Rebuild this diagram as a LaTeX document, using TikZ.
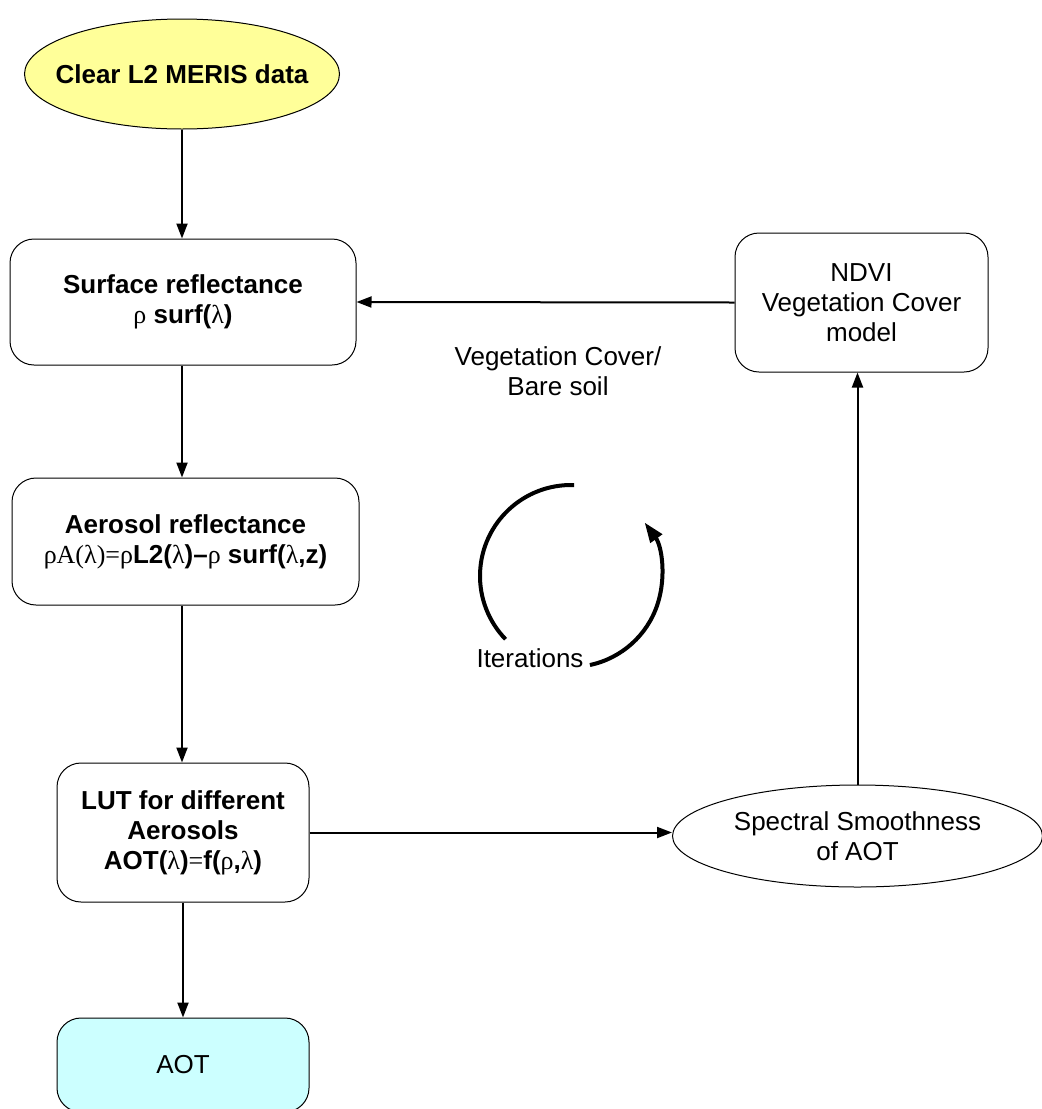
\documentclass[tikz,border=0pt]{standalone}
\usepackage{fontspec}
\setmainfont{Liberation Sans}
\newfontfamily\symbfont{Liberation Serif}
\usetikzlibrary{arrows.meta,shapes.geometric}
\definecolor{merisyellow}{RGB}{255,255,153}
\definecolor{aotcyan}{RGB}{204,255,255}
\newcommand{\gk}[1]{{\symbfont\mdseries #1}}

\begin{document}
\begin{tikzpicture}[x=0.5pt,y=-0.5pt,
	every node/.style={font=\fontsize{13}{15}\selectfont},
	flowbox/.style={draw,line width=0.5pt,rounded corners=12pt,align=center,inner sep=2pt},
	boldbox/.style={flowbox,font=\fontsize{13}{15}\selectfont\bfseries},
	oval/.style={draw,ellipse,line width=0.5pt,align=center,inner sep=0pt},
	flow/.style={line width=1pt,-{Triangle[length=7.5pt,width=5.5pt]}},
	loop/.style={line width=2pt}]
	\useasboundingbox (0,0) rectangle (1042,1109);
	% left column
	\node[oval,fill=merisyellow,inner xsep=-9pt,minimum width=157.5pt,minimum height=55pt,font=\fontsize{13}{15}\selectfont\bfseries] (meris) at (182,74) {Clear L2 MERIS data};
	\node[boldbox,minimum width=173pt,minimum height=63pt] (surf) at (183,302) {Surface reflectance\\\gk{ρ} surf(\gk{λ})};
	\node[boldbox,minimum width=173.5pt,minimum height=63.5pt] (aero) at (185.5,541.5) {Aerosol reflectance\\\gk{ρA(λ)=ρ}L2(\gk{λ})–\gk{ρ} surf(\gk{λ},z)};
	\node[boldbox,minimum width=126pt,minimum height=69.5pt] (lut) at (183,832.5) {LUT for different\\Aerosols\\AOT(\gk{λ})\gk{=}f(\gk{ρ},\gk{λ})};
	\node[flowbox,fill=aotcyan,minimum width=126pt,minimum height=47pt] (aot) at (183,1065) {AOT};
	% right column
	\node[oval,minimum width=185pt,minimum height=51pt] (smooth) at (857.5,836) {Spectral Smoothness\\of AOT};
	\node[flowbox,minimum width=126.5pt,minimum height=69.5pt] (ndvi) at (861.5,302.5) {NDVI\\Vegetation Cover\\model};
	\node[align=center] (vegsoil) at (558,371.5) {Vegetation Cover/\\Bare soil};
	% connectors
	\draw[flow] (meris.south) -- (meris.south |- surf.north);
	\draw[flow] (surf.south -| meris.south) -- (meris.south |- aero.north);
	\draw[flow] (aero.south -| meris.south) -- (meris.south |- lut.north);
	\draw[flow] (lut) -- (aot);
	\draw[flow] (lut.east) -- (lut.east -| smooth.west);
	\draw[flow] (smooth.north) -- (smooth.north |- ndvi.south);
	\draw[flow] (ndvi.west) -- (surf.east);
	% iterations
	\coordinate (cyc) at (571,576);
	\node (iter) at (530,658) {Iterations};
	\draw[loop] (cyc) ++(-88:91) arc (-88:-224:91);
	\draw[loop,-{Triangle[length=10pt,width=7pt]}] (cyc) ++(78:91) arc (78:-36:91);
\end{tikzpicture}
\end{document}
